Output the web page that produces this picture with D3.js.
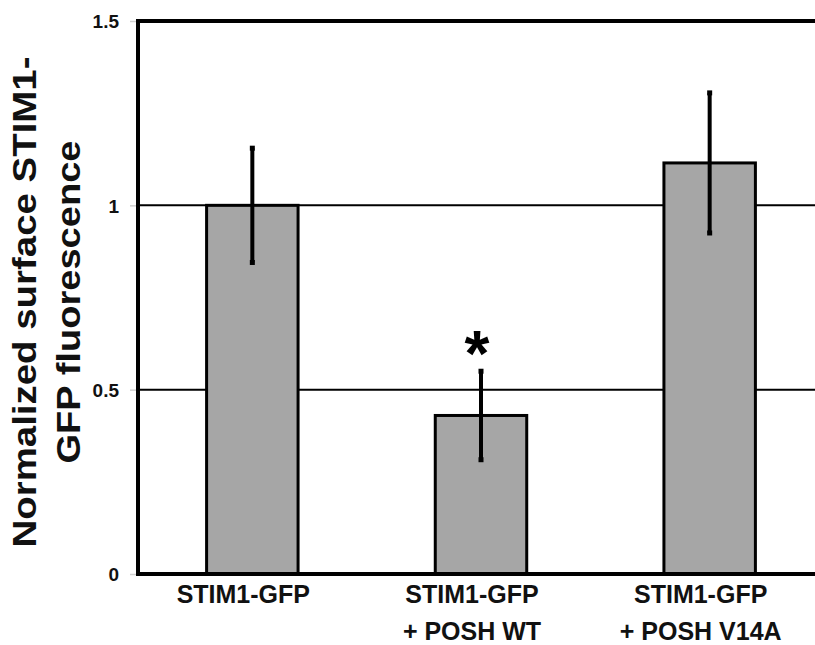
<!DOCTYPE html>
<html>
<head>
<meta charset="utf-8">
<script src="https://cdn.jsdelivr.net/npm/d3@7"></script>
<style>
  body { margin: 0; background: #fff; }
  svg { display: block; font-family: "Liberation Sans", Arial, sans-serif; }
</style>
</head>
<body>
<svg id="chart" width="815" height="645"></svg>
<script>
"use strict";
// data
const categories = ["STIM1-GFP", "STIM1-GFP + POSH WT", "STIM1-GFP + POSH V14A"];
const labelLines = [["STIM1-GFP"], ["STIM1-GFP", "+ POSH WT"], ["STIM1-GFP", "+ POSH V14A"]];
const means = [1.0, 0.43, 1.115];
const errors = [0.155, 0.12, 0.19];
const significant = [false, true, false];
const yTicks = [0, 0.5, 1, 1.5];
const yTickLabels = ["0", "0.5", "1", "1.5"];
const gridValues = [0.5, 1];

const svg = d3.select("#chart");
const x = d3.scaleBand().domain(categories).range([138, 824]).paddingInner(0.6).paddingOuter(0.3);
const y = d3.scaleLinear().domain([0, 1.5]).range([574, 21]);

// grid lines
svg.append("g").selectAll("line").data(gridValues).join("line")
    .attr("x1", 138).attr("x2", 815)
    .attr("y1", d => y(d)).attr("y2", d => y(d))
    .attr("stroke", "#000").attr("stroke-width", 2);

// y axis with faint ticks
const yAxis = svg.append("g").attr("transform", "translate(138,0)")
    .call(d3.axisLeft(y).tickValues(yTicks).tickSize(8).tickFormat((d, i) => yTickLabels[i]));
yAxis.select(".domain").remove();
yAxis.selectAll(".tick line").attr("stroke", "#d0d0d0").attr("stroke-width", 1.5);
yAxis.selectAll(".tick text")
    .attr("x", -19).attr("dy", "0.36em")
    .attr("font-size", 19).attr("font-weight", "bold")
    .attr("font-family", "Liberation Sans, Arial, sans-serif").attr("fill", "#111");

// bars
svg.append("g").selectAll("rect").data(categories).join("rect")
    .attr("x", d => x(d))
    .attr("y", (d, i) => y(means[i]))
    .attr("width", x.bandwidth())
    .attr("height", (d, i) => y(0) - y(means[i]))
    .attr("fill", "#a6a6a6").attr("stroke", "#000").attr("stroke-width", 3);

// error bars
const eb = svg.append("g");
eb.selectAll("line").data(categories).join("line")
    .attr("x1", d => x(d) + x.bandwidth() / 2).attr("x2", d => x(d) + x.bandwidth() / 2)
    .attr("y1", (d, i) => y(means[i] + errors[i])).attr("y2", (d, i) => y(means[i] - errors[i]))
    .attr("stroke", "#000").attr("stroke-width", 4);
eb.selectAll("rect.cap").data(categories.flatMap((d, i) => [[d, means[i] + errors[i]], [d, means[i] - errors[i]]]))
    .join("rect").attr("class", "cap")
    .attr("x", d => x(d[0]) + x.bandwidth() / 2 - 2.5).attr("y", d => y(d[1]) - 2.5)
    .attr("width", 5).attr("height", 5).attr("fill", "#000");

// significance asterisk
svg.append("g").selectAll("text").data(categories.filter((d, i) => significant[i])).join("text")
    .attr("x", d => x(d) + x.bandwidth() / 2 - 4)
    .attr("y", d => y(means[categories.indexOf(d)] + errors[categories.indexOf(d)]) + 5)
    .attr("text-anchor", "middle").attr("font-size", 64).attr("font-weight", "bold")
    .text("*");

// frame: top line, left axis, bottom axis
svg.append("line").attr("x1", 136).attr("x2", 815).attr("y1", y(1.5)).attr("y2", y(1.5))
    .attr("stroke", "#000").attr("stroke-width", 4);
svg.append("line").attr("x1", 138).attr("x2", 138).attr("y1", y(1.5) - 2).attr("y2", y(0) + 2)
    .attr("stroke", "#000").attr("stroke-width", 4);
svg.append("line").attr("x1", 136).attr("x2", 815).attr("y1", y(0)).attr("y2", y(0))
    .attr("stroke", "#000").attr("stroke-width", 4);

// x labels
const xl = svg.append("g").selectAll("text").data(categories).join("text")
    .attr("text-anchor", "middle").attr("font-size", 25).attr("font-weight", "bold").attr("fill", "#111");
xl.each(function (d, i) {
    const t = d3.select(this);
    labelLines[i].forEach((line, j) => {
        t.append("tspan")
            .attr("x", x(d) + x.bandwidth() / 2 - 9)
            .attr("y", 603 + j * 37)
            .text(line);
    });
});

// y title
const titleLines = ["Normalized surface STIM1-", "GFP fluorescence"];
const titleX = [36, 80];
const titleLen = [491, 323];
svg.append("g").selectAll("text").data(titleLines).join("text")
    .attr("transform", (d, i) => `translate(${titleX[i]},302) rotate(-90)`)
    .attr("text-anchor", "middle").attr("font-size", 34).attr("font-weight", "bold").attr("fill", "#111")
    .attr("textLength", (d, i) => titleLen[i]).attr("lengthAdjust", "spacingAndGlyphs")
    .text(d => d);
</script>
</body>
</html>
